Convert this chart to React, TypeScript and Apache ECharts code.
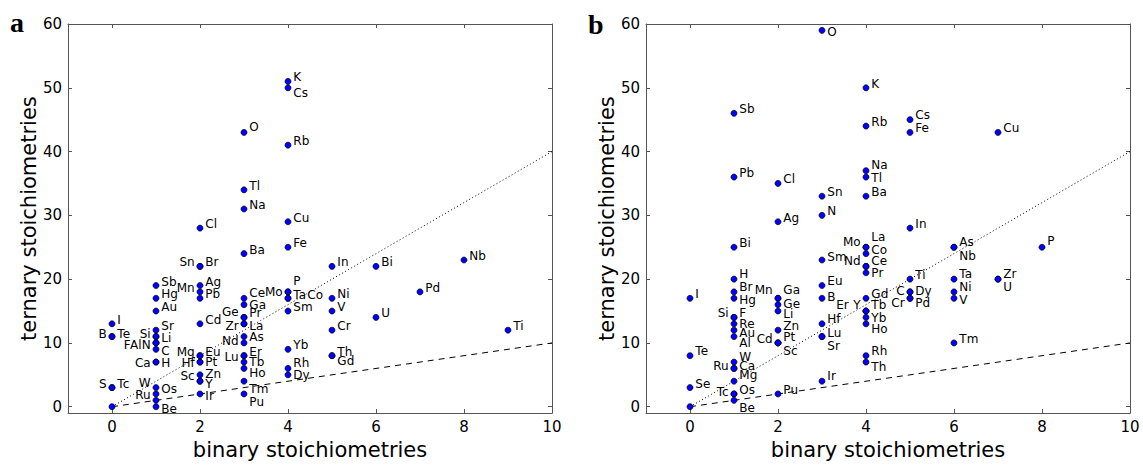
import React, { useEffect, useRef } from "react";
import * as echarts from "echarts";

// ---- panel a: element, binary count, ternary count ----
const namesA = [
  "I", "B", "Te", "S", "Tc", "",
  "Sb", "Hg", "Au", "Sr", "Si", "Li", "F", "Al", "N", "C", "Ca", "H", "W", "Os", "Ru", "Be",
  "Cl", "Sn", "Br", "Ag", "Mn", "Pb", "Cd", "Mg", "Eu", "Hf", "Pt", "Zn", "Sc", "Y", "Ir",
  "O", "Tl", "Na", "Ba", "Ce", "Ga", "Ge", "Pr", "Zr", "La", "As", "Nd", "Lu", "Er", "Tb", "Ho", "Tm", "Pu",
  "K", "Cs", "Rb", "Cu", "Fe", "Mo", "P", "Ta", "Co", "Sm", "Yb", "Rh", "Dy",
  "In", "Ni", "V", "Cr", "Th", "Gd",
  "Bi", "U", "Pd", "Nb", "Ti",
];
const binaryA = [
  0, 0, 0, 0, 0, 0,
  1, 1, 1, 1, 1, 1, 1, 1, 1, 1, 1, 1, 1, 1, 1, 1,
  2, 2, 2, 2, 2, 2, 2, 2, 2, 2, 2, 2, 2, 2, 2,
  3, 3, 3, 3, 3, 3, 3, 3, 3, 3, 3, 3, 3, 3, 3, 3, 3, 3,
  4, 4, 4, 4, 4, 4, 4, 4, 4, 4, 4, 4, 4,
  5, 5, 5, 5, 5, 5,
  6, 6, 7, 8, 9,
];
const ternaryA = [
  13, 11, 11, 3, 3, 0,
  19, 17, 15, 12, 11, 11, 10, 10, 10, 9, 7, 7, 3, 2, 1, 0,
  28, 22, 22, 19, 18, 17, 13, 8, 8, 7, 7, 5, 4, 4, 2,
  43, 34, 31, 24, 17, 16, 14, 14, 13, 13, 11, 10, 8, 8, 7, 6, 4, 2,
  51, 50, 41, 29, 25, 18, 18, 17, 17, 15, 9, 6, 5,
  22, 17, 15, 12, 8, 8,
  22, 14, 18, 23, 12,
];

// ---- panel b ----
const namesB = [
  "I", "Te", "Se", "",
  "Sb", "Pb", "Bi", "H", "Br", "Hg", "Si", "F", "Re", "Au", "Al", "W", "Ru", "Ca", "Mg", "Tc", "Os", "Be",
  "Cl", "Ag", "Mn", "Ga", "Ge", "Li", "Zn", "Cd", "Pt", "Sc", "Pu",
  "O", "Sn", "N", "Sm", "Eu", "B", "Hf", "Lu", "Sr", "Ir",
  "K", "Rb", "Na", "Tl", "Ba", "Mo", "La", "Co", "Nd", "Ce", "Pr", "Gd", "Er", "Y", "Tb", "Yb", "Ho", "Rh", "Th",
  "Cs", "Fe", "In", "Ti", "C", "Dy", "Cr", "Pd",
  "As", "Nb", "Ta", "Ni", "V", "Tm",
  "Cu", "Zr", "U",
  "P",
];
const binaryB = [
  0, 0, 0, 0,
  1, 1, 1, 1, 1, 1, 1, 1, 1, 1, 1, 1, 1, 1, 1, 1, 1, 1,
  2, 2, 2, 2, 2, 2, 2, 2, 2, 2, 2,
  3, 3, 3, 3, 3, 3, 3, 3, 3, 3,
  4, 4, 4, 4, 4, 4, 4, 4, 4, 4, 4, 4, 4, 4, 4, 4, 4, 4, 4,
  5, 5, 5, 5, 5, 5, 5, 5,
  6, 6, 6, 6, 6, 6,
  7, 7, 7,
  8,
];
const ternaryB = [
  17, 8, 3, 0,
  46, 36, 25, 20, 18, 17, 14, 14, 13, 12, 11, 7, 6, 6, 4, 2, 2, 1,
  35, 29, 17, 17, 16, 15, 12, 10, 10, 10, 2,
  59, 33, 30, 23, 19, 17, 13, 11, 11, 4,
  50, 44, 37, 36, 33, 25, 25, 24, 22, 22, 21, 17, 15, 15, 15, 14, 13, 8, 7,
  45, 43, 28, 20, 18, 18, 17, 17,
  25, 25, 20, 18, 17, 10,
  43, 20, 20,
  25,
];

// reference lines: ternary = binary (dashed) and ternary = 4 * binary (dotted)
const lineX = [0, 10];
const equalFactor = 1;
const fourFactor = 4;

const xTicks = [0, 2, 4, 6, 8, 10];
const yTicks = [0, 10, 20, 30, 40, 50, 60];

// label placement (which side of the marker, and small nudges in px)
const leftA = new Set(["B", "S", "Si", "F", "Al", "N", "Ca", "W", "Ru", "Sn", "Mn", "Mg", "Hf", "Sc", "Ge", "Zr", "Nd", "Lu", "Mo"]);
const dyA: Record<string, number> = {
  Li: 1, F: 2, Al: 2, N: 2, C: 2, Si: -3, B: -3, Te: -3, Be: 2, Hf: 1, Pt: 0, Sc: -5, Y: 3, Zn: -1, Ir: 2,
  Lu: 1, Ge: -5, Zr: 2, La: 2, As: 0, Nd: -2, Ce: -5, Ga: 0, Tb: 0, Ho: 5, Tm: 8, Pu: 8, P: -11, Ta: -3,
  Co: -3, Mo: 0, Rh: -5, Dy: 0, Gd: 5, Ca: 1, H: 1, W: -5, Os: -5, Ru: -5, O: -5, Cs: 5,
};
const dxA: Record<string, number> = { F: -20, Al: -9, Co: 14 };

const leftB = new Set(["Si", "Ru", "Tc", "Mn", "Cd", "Mo", "Nd", "Er", "Y", "C", "Cr"]);
const dyB: Record<string, number> = {
  H: -5, Br: -5, Hg: 2, Re: 0, Au: 3, Al: 6, W: -5, Ru: -2, Ca: -2, Mg: -6, Tc: -2, Be: 8, Mn: -8, Ga: -8,
  Ge: -1, Li: 3, Pt: -6, Sc: 8, Sm: -3, Eu: -5, B: -1, Hf: -5, Sr: 9, Ir: -5, Te: -5, Mo: -5, La: -10,
  Ce: -5, Nd: -5, Pr: 0, Er: -6, Y: -6, Tb: -6, Yb: 1, Ho: 5, Rh: -5, Th: 5, C: -1, Dy: -1, Cr: 5, Pd: 5,
  As: -5, Nb: 9, Ta: -5, Ni: -5, V: 2, Zr: -5, U: 8, P: -6, Cs: -5, Na: -6, Tl: 1, O: 2,
};
const dxB: Record<string, number> = { Er: -12 };

const FONT = "DejaVu Sans";
const AXIS_COLOR = "#555";

function buildPoints(
  names: string[],
  bin: number[],
  ter: number[],
  left: Set<string>,
  dy: Record<string, number>,
  dx: Record<string, number>
) {
  return names.map((n, i) => ({
    value: [bin[i], ter[i]],
    label: {
      show: n !== "",
      formatter: n,
      position: left.has(n) ? "left" : "right",
      distance: 2,
      offset: [dx[n] ?? 0, dy[n] ?? -4],
    },
  }));
}

function refLine(factor: number) {
  return lineX.map((x) => [x, x * factor]);
}

function xAxes(gridIndex: number) {
  const base = {
    type: "value",
    gridIndex,
    min: -1,
    max: 10,
    splitLine: { show: false },
    axisLine: { show: true, onZero: false, lineStyle: { color: AXIS_COLOR, width: 1 } },
    axisTick: { show: true, inside: true, length: 4, customValues: xTicks, lineStyle: { color: AXIS_COLOR } },
  };
  return [
    {
      ...base,
      position: "bottom",
      name: "binary stoichiometries",
      nameLocation: "middle",
      nameGap: 23,
      nameTextStyle: { fontSize: 21, color: "#000", fontFamily: FONT },
      axisLabel: { show: true, customValues: xTicks, fontSize: 15, color: "#000", fontFamily: FONT, margin: 6 },
    },
    { ...base, position: "top", axisLabel: { show: false } },
  ];
}

function yAxes(gridIndex: number) {
  const base = {
    type: "value",
    gridIndex,
    min: -1,
    max: 60,
    splitLine: { show: false },
    axisLine: { show: true, onZero: false, lineStyle: { color: AXIS_COLOR, width: 1 } },
    axisTick: { show: true, inside: true, length: 4, customValues: yTicks, lineStyle: { color: AXIS_COLOR } },
  };
  return [
    {
      ...base,
      position: "left",
      name: "ternary stoichiometries",
      nameLocation: "middle",
      nameGap: 28,
      nameTextStyle: { fontSize: 21, color: "#000", fontFamily: FONT },
      axisLabel: { show: true, customValues: yTicks, fontSize: 15, color: "#000", fontFamily: FONT, margin: 6 },
    },
    { ...base, position: "right", axisLabel: { show: false } },
  ];
}

function panelSeries(axisIndex: number, points: any[]) {
  return [
    {
      type: "line",
      xAxisIndex: axisIndex,
      yAxisIndex: axisIndex,
      data: refLine(equalFactor),
      symbol: "none",
      lineStyle: { color: "#000", width: 1, type: [6, 5] },
      z: 1,
    },
    {
      type: "line",
      xAxisIndex: axisIndex,
      yAxisIndex: axisIndex,
      data: refLine(fourFactor),
      symbol: "none",
      lineStyle: { color: "#000", width: 1, type: [1, 2.5] },
      z: 1,
    },
    {
      type: "scatter",
      xAxisIndex: axisIndex,
      yAxisIndex: axisIndex,
      data: points,
      symbol: "circle",
      symbolSize: 6,
      itemStyle: { color: "#0000ff", borderColor: "#000", borderWidth: 0.7, opacity: 1 },
      label: { color: "#000", fontSize: 12, fontFamily: FONT },
      z: 3,
    },
  ];
}

export default function App() {
  const ref = useRef<HTMLDivElement>(null);

  useEffect(() => {
    if (!ref.current) return;
    const chart = echarts.init(ref.current, undefined, { renderer: "svg" });
    const pointsA = buildPoints(namesA, binaryA, ternaryA, leftA, dyA, dxA);
    const pointsB = buildPoints(namesB, binaryB, ternaryB, leftB, dyB, dxB);

    chart.setOption({
      animation: false,
      backgroundColor: "#fff",
      grid: [
        { left: 68, top: 24, width: 484, height: 393 },
        { left: 646, top: 24, width: 484, height: 393 },
      ],
      xAxis: [...xAxes(0), ...xAxes(1)],
      yAxis: [...yAxes(0), ...yAxes(1)],
      series: [...panelSeries(0, pointsA), ...panelSeries(2, pointsB)],
      graphic: [
        {
          type: "text",
          x: 10,
          y: 8,
          style: { text: "a", font: 'bold 28px "Liberation Serif"', fill: "#000" },
        },
        {
          type: "text",
          x: 588,
          y: 10,
          style: { text: "b", font: 'bold 28px "Liberation Serif"', fill: "#000" },
        },
      ],
    });

    return () => chart.dispose();
  }, []);

  return (
    <div
      ref={ref}
      style={{ position: "absolute", left: 0, top: 0, width: 1143, height: 465 }}
    />
  );
}
